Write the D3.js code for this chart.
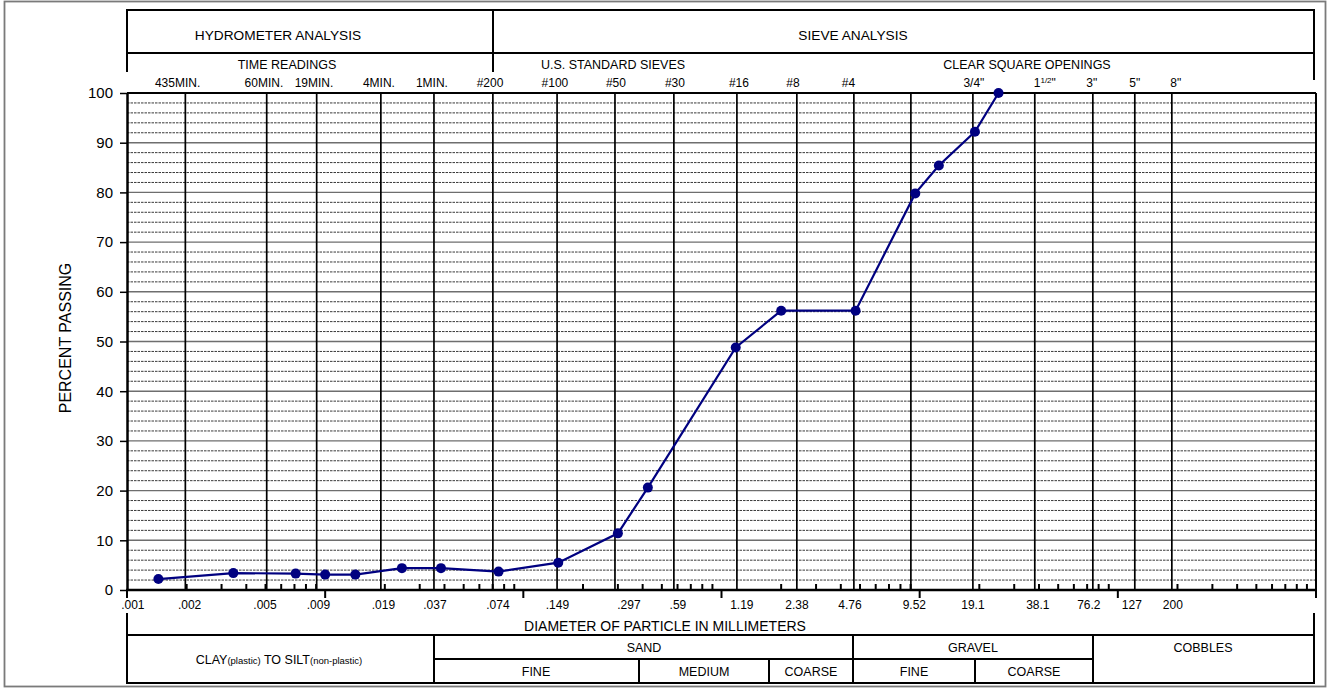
<!DOCTYPE html>
<html>
<head>
<meta charset="utf-8">
<script src="https://cdn.jsdelivr.net/npm/d3@7"></script>
<style>
html,body{margin:0;padding:0;background:#fff;}
svg{display:block;font-family:"Liberation Sans",Arial,sans-serif;}
</style>
</head>
<body>
<svg id="chart" width="1330" height="691"></svg>
<script>
// ---- data ----
const diameters = [0.00144, 0.00344, 0.0071, 0.0100, 0.0142, 0.0244, 0.0384, 0.075, 0.15, 0.3, 0.425, 1.18, 2.0, 4.75, 9.5, 12.5, 19, 25];
const percentPassing = [2.2, 3.4, 3.3, 3.1, 3.1, 4.4, 4.4, 3.7, 5.5, 11.4, 20.6, 48.8, 56.2, 56.2, 79.8, 85.4, 92.2, 100];
// vertical reference lines (sieve / time-reading diameters, mm)
const gridDiameters = [0.00197, 0.00507, 0.00906, 0.0191, 0.0354, 0.0702, 0.148, 0.290, 0.575, 1.196, 2.40, 4.656, 9.03, 18.56, 38.1, 74.8, 121.8, 187.3];
// top labels (time readings and sieves) and the diameter they sit at
const topLabels = ["435MIN.", "60MIN.", "19MIN.", "4MIN.", "1MIN.", "#200", "#100", "#50", "#30", "#16", "#8", "#4", "3/4\"", "1 1/2\"", "3\"", "5\"", "8\""];
const topLabelAt = [0.0018, 0.00491, 0.00878, 0.01868, 0.03457, 0.0679, 0.1443, 0.2933, 0.582, 1.224, 2.293, 4.369, 18.77, 42.8, 73.9, 121.8, 196.2];
// bottom diameter labels and the diameter they sit at
const bottomLabels = [".001", ".002", ".005", ".009", ".019", ".037", ".074", ".149", ".297", ".59", "1.19", "2.38", "4.76", "9.52", "19.1", "38.1", "76.2", "127", "200"];
const bottomLabelAt = [0.00107, 0.00207, 0.00497, 0.00925, 0.01968, 0.0358, 0.0744, 0.1486, 0.341, 0.6026, 1.267, 2.402, 4.445, 9.404, 18.56, 39.48, 71.4, 117.7, 189.5];
const yTicks = [0, 10, 20, 30, 40, 50, 60, 70, 80, 90, 100];
const yGrid2 = d3.range(0, 101, 2);

// ---- layout ----
const svg = d3.select("#chart");
const L = 127, R = 1316, T = 93, B = 590;
const x = d3.scaleLog().domain([0.001, 1000]).range([L, R]);
const y = d3.scaleLinear().domain([0, 100]).range([B, T]);

svg.append("rect").attr("width", 1330).attr("height", 691).attr("fill", "#fff");
// outer frame
svg.append("rect").attr("x", 4.5).attr("y", 1.5).attr("width", 1321).attr("height", 685)
  .attr("fill", "none").attr("stroke", "#7a7a7a").attr("stroke-width", 1.8);

const g = svg.append("g");

// horizontal grid
g.selectAll("line.hg").data(yGrid2.filter(v => v % 10 !== 0)).join("line")
  .attr("x1", L).attr("x2", R).attr("y1", d => y(d)).attr("y2", d => y(d))
  .attr("stroke", "#222").attr("stroke-width", 0.9).attr("stroke-dasharray", "2.5,1");
g.selectAll("line.hg10").data(yTicks.filter(v => v > 0 && v < 100)).join("line")
  .attr("x1", L).attr("x2", R).attr("y1", d => y(d)).attr("y2", d => y(d))
  .attr("stroke", "#6e6e6e").attr("stroke-width", 1.4);

// vertical reference lines
g.selectAll("line.vg").data(gridDiameters).join("line")
  .attr("x1", d => x(d)).attr("x2", d => x(d)).attr("y1", T).attr("y2", B)
  .attr("stroke", "#000").attr("stroke-width", 1.7);

// plot border
g.append("line").attr("x1", L).attr("x2", R).attr("y1", T).attr("y2", T).attr("stroke", "#000").attr("stroke-width", 2);
g.append("line").attr("x1", R).attr("x2", R).attr("y1", T).attr("y2", B + 8).attr("stroke", "#000").attr("stroke-width", 2);

// x axis: minor ticks up, decade ticks down
const minor = [];
for (let k = -3; k <= 2; k++) for (let m = 2; m <= 9; m++) minor.push(m * Math.pow(10, k));
const decades = [0.001, 0.01, 0.1, 1, 10, 100, 1000];
g.selectAll("line.mt").data(minor).join("line")
  .attr("x1", d => x(d)).attr("x2", d => x(d)).attr("y1", B).attr("y2", B - 6)
  .attr("stroke", "#000").attr("stroke-width", 2);
g.selectAll("line.Mt").data(decades).join("line")
  .attr("x1", d => x(d)).attr("x2", d => x(d)).attr("y1", B).attr("y2", B + 8)
  .attr("stroke", "#000").attr("stroke-width", 2);
g.append("line").attr("x1", L - 1).attr("x2", R + 1).attr("y1", B).attr("y2", B).attr("stroke", "#000").attr("stroke-width", 2.5);

// y axis
const yAxis = d3.axisLeft(y).tickValues(yTicks).tickSize(7).tickSizeOuter(0).tickPadding(7);
const ya = svg.append("g").attr("transform", `translate(${L},0)`).call(yAxis);
ya.select(".domain").attr("stroke-width", 2.5);
ya.selectAll(".tick line").attr("stroke-width", 1.5);
ya.selectAll("text").attr("font-size", 15).attr("fill", "#000").attr("font-family", "Liberation Sans, Arial, sans-serif");

svg.append("text").attr("transform", `translate(71,338) rotate(-90)`).attr("text-anchor", "middle")
  .attr("font-size", 16).text("PERCENT PASSING");

// bottom labels
svg.selectAll("text.bl").data(bottomLabels).join("text")
  .attr("x", (d, i) => x(bottomLabelAt[i])).attr("y", 609).attr("text-anchor", "middle")
  .attr("font-size", 12).text(d => d);

// top labels (a space separates a superscript fraction, e.g. 1 1/2")
svg.selectAll("text.tl").data(topLabels).join("text")
  .attr("x", (d, i) => x(topLabelAt[i])).attr("y", 87).attr("text-anchor", "middle")
  .attr("font-size", 12)
  .each(function (d) {
    const t = d3.select(this);
    const parts = d.split(" ");
    if (parts.length === 1) { t.text(d); return; }
    t.append("tspan").text(parts[0]);
    t.append("tspan").attr("font-size", 8).attr("dy", -4).text(parts[1].replace("\"", ""));
    t.append("tspan").attr("dy", 4).text("\"");
  });

// data line
const line = d3.line().x((d, i) => x(diameters[i])).y(d => y(d));
svg.append("path").datum(percentPassing).attr("d", line).attr("fill", "none")
  .attr("stroke", "#000080").attr("stroke-width", 2.2);
svg.selectAll("circle.pt").data(percentPassing).join("circle")
  .attr("cx", (d, i) => x(diameters[i])).attr("cy", d => y(d)).attr("r", 5).attr("fill", "#000080");

// ---- header table ----
const tl = svg.append("g").attr("stroke", "#000").attr("stroke-width", 2);
const seg = (x1, y1, x2, y2) => tl.append("line").attr("x1", x1).attr("y1", y1).attr("x2", x2).attr("y2", y2);
seg(126, 10, 1315, 10); seg(127, 53, 1314, 53);
seg(127, 9, 127, 72); seg(493, 10, 493, 72); seg(1314, 9, 1314, 80);
// bottom table
seg(127, 613, 127, 684); seg(1314, 613, 1314, 684);
seg(126, 635, 1315, 635); seg(434, 659, 1093, 659); seg(126, 683, 1315, 683);
seg(434, 635, 434, 683); seg(853, 635, 853, 683); seg(1093, 635, 1093, 683);
seg(639, 659, 639, 683); seg(769, 659, 769, 683); seg(975, 659, 975, 683);

const txt = (s, cx, by, fs) => svg.append("text").attr("x", cx).attr("y", by).attr("text-anchor", "middle").attr("font-size", fs).text(s);
txt("HYDROMETER ANALYSIS", 278, 40, 13.7);
txt("SIEVE ANALYSIS", 853, 40, 13.7);
txt("TIME READINGS", 287, 69, 12.5);
txt("U.S. STANDARD SIEVES", 613, 69, 12.5);
txt("CLEAR SQUARE OPENINGS", 1027, 69, 12.5);
txt("DIAMETER OF PARTICLE IN MILLIMETERS", 665, 631, 14);
txt("SAND", 644, 652, 12.5);
txt("GRAVEL", 973, 652, 12.5);
txt("COBBLES", 1203, 652, 12.5);
txt("FINE", 536, 676, 12.5);
txt("MEDIUM", 704, 676, 12.5);
txt("COARSE", 811, 676, 12.5);
txt("FINE", 914, 676, 12.5);
txt("COARSE", 1034, 676, 12.5);
const clay = svg.append("text").attr("x", 279).attr("y", 664).attr("text-anchor", "middle").attr("font-size", 12.5);
clay.append("tspan").text("CLAY");
clay.append("tspan").attr("font-size", 9.5).text("(plastic)");
clay.append("tspan").text(" TO SILT");
clay.append("tspan").attr("font-size", 9.5).text("(non-plastic)");
</script>
</body>
</html>
